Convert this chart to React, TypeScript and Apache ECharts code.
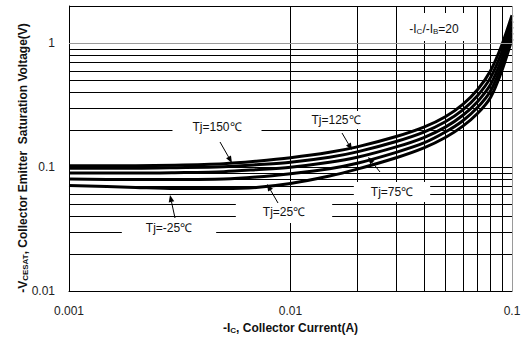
import React, { useEffect, useRef } from 'react';
import * as echarts from 'echarts';

// Collector current (A)
const currents = [0.001, 0.002, 0.003, 0.005, 0.007, 0.01, 0.015, 0.02, 0.03, 0.04, 0.05, 0.06, 0.07, 0.08, 0.09, 0.1];
// -VCE(sat) (V) for each junction temperature
const tj150 = [0.1028, 0.1028, 0.1037, 0.1066, 0.1117, 0.1191, 0.1318, 0.1458, 0.1768, 0.2106, 0.2555, 0.3216, 0.4236, 0.6008, 0.9692, 1.683];
const tj125 = [0.0982, 0.0982, 0.0991, 0.1009, 0.1047, 0.1096, 0.1202, 0.133, 0.1613, 0.1921, 0.233, 0.2906, 0.3794, 0.5282, 0.8519, 1.507];
const tj75 = [0.0896, 0.0896, 0.0904, 0.0921, 0.0955, 0.1, 0.1096, 0.1202, 0.1458, 0.1736, 0.2106, 0.2626, 0.3398, 0.4644, 0.7492, 1.35];
const tj25 = [0.0802, 0.0795, 0.0795, 0.0802, 0.0832, 0.0887, 0.0973, 0.1076, 0.1318, 0.1569, 0.1921, 0.2373, 0.3043, 0.4121, 0.6707, 1.209];
const tjm25 = [0.0712, 0.0686, 0.0673, 0.0673, 0.0686, 0.0738, 0.0848, 0.0964, 0.1191, 0.1431, 0.1736, 0.2145, 0.2725, 0.3657, 0.6008, 1.082];

const curveNames = ['Tj=150℃', 'Tj=125℃', 'Tj=75℃', 'Tj=25℃', 'Tj=-25℃'];
const curveValues = [tj150, tj125, tj75, tj25, tjm25];

const xTickLabels = [0.001, 0.01, 0.1];
const yTickLabels = [0.01, 0.1, 1];
const xMinorGrid = [0.002, 0.003, 0.004, 0.005, 0.006, 0.007, 0.008, 0.009, 0.02, 0.03, 0.04, 0.05, 0.06, 0.07, 0.08, 0.09];
const xMajorGrid = [0.01];
const yMinorGrid = [0.02, 0.03, 0.04, 0.05, 0.06, 0.07, 0.08, 0.09, 0.2, 0.3, 0.4, 0.5, 0.6, 0.7, 0.8, 0.9];
const yBlackMajor = [0.1, 2];
const yGreyMajor = [1];
const xGreyBorder = [0.1];

const FONT = 'Liberation Sans, Arial, sans-serif';

function isTick(v: number, ticks: number[]) {
  return ticks.some((t) => Math.abs(Math.log10(v) - Math.log10(t)) < 1e-6);
}

function fmt(v: number, ticks: number[]) {
  return isTick(v, ticks) ? String(+v.toPrecision(3)) : '';
}

function arrow(x1: number, y1: number, x2: number, y2: number) {
  const a = Math.atan2(y2 - y1, x2 - x1);
  const L = 7, W = 2.8;
  const bx = x2 - L * Math.cos(a), by = y2 - L * Math.sin(a);
  return [
    { type: 'line', shape: { x1, y1, x2: bx, y2: by }, style: { stroke: '#000', lineWidth: 1 }, z: 100 },
    {
      type: 'polygon',
      shape: { points: [[x2, y2], [bx + W * Math.sin(a), by - W * Math.cos(a)], [bx - W * Math.sin(a), by + W * Math.cos(a)]] },
      style: { fill: '#000' },
      z: 100,
    },
  ];
}

function label(text: string, x: number, y: number, padding: number[]) {
  return {
    type: 'text',
    x,
    y,
    z: 99,
    style: {
      text,
      font: `12px ${FONT}`,
      fill: '#111',
      align: 'center',
      verticalAlign: 'middle',
      backgroundColor: '#fff',
      padding,
    },
  };
}

export default function App() {
  const ref = useRef<HTMLDivElement>(null);
  useEffect(() => {
    if (!ref.current) return;
    const chart = echarts.init(ref.current, null, { renderer: 'svg' });
    const gridLines = [
      ...xMinorGrid.map((v) => ({ xAxis: v })),
      ...xMajorGrid.map((v) => ({ xAxis: v })),
      ...yMinorGrid.map((v) => ({ yAxis: v })),
      ...yBlackMajor.map((v) => ({ yAxis: v })),
      ...yGreyMajor.map((v) => ({ yAxis: v, lineStyle: { color: '#9a9a9a', width: 1, type: 'solid' } })),
      ...xGreyBorder.map((v) => ({ xAxis: v, lineStyle: { color: '#9a9a9a', width: 1, type: 'solid' } })),
    ];
    const option: any = {
      animation: false,
      grid: { left: 69, right: 14, top: 6, bottom: 44 },
      xAxis: {
        type: 'log',
        logBase: 10,
        min: 0.001,
        max: 0.1,
        axisLine: { show: true, lineStyle: { color: '#000', width: 1 } },
        axisTick: { show: false },
        splitLine: { show: false },
        axisLabel: {
          formatter: (v: number) => fmt(v, xTickLabels),
          margin: 14,
          color: '#222',
          fontSize: 12,
          fontFamily: FONT,
          showMaxLabel: true,
          showMinLabel: true,
        },
        name: '{a|-I}{s|C}{a|, Collector Current(A)}',
        nameLocation: 'middle',
        nameGap: 16,
        nameTextStyle: {
          rich: {
            a: { fontSize: 12, fontWeight: 'bold', fontFamily: FONT, color: '#111', lineHeight: 16, verticalAlign: 'bottom' },
            s: { fontSize: 8, fontWeight: 'bold', fontFamily: FONT, color: '#111', lineHeight: 12, verticalAlign: 'bottom' },
          },
        },
      },
      yAxis: {
        type: 'log',
        logBase: 10,
        min: 0.01,
        max: 2,
        axisLine: { show: true, lineStyle: { color: '#000', width: 1 } },
        axisTick: { show: false },
        splitLine: { show: false },
        axisLabel: {
          formatter: (v: number) => fmt(v, yTickLabels),
          margin: 14,
          color: '#222',
          fontSize: 12,
          fontFamily: FONT,
          showMaxLabel: false,
        },
      },
      graphic: [
        {
          type: 'text',
          x: 21,
          y: 158,
          rotation: Math.PI / 2,
          z: 99,
          style: {
            text: '{a|-V}{s|CESAT}{a|, Collector Emitter  Saturation Voltage(V)}',
            align: 'center',
            verticalAlign: 'middle',
            rich: {
              a: { font: `bold 12px ${FONT}`, fill: '#111', lineHeight: 16, verticalAlign: 'bottom' },
              s: { font: `bold 8px ${FONT}`, fill: '#111', lineHeight: 12, verticalAlign: 'bottom' },
            },
          },
        },
        {
          type: 'text',
          x: 434,
          y: 27,
          z: 99,
          style: {
            text: '{a|-I}{s|C}{a|/-I}{s|B}{a|=20}',
            align: 'center',
            verticalAlign: 'middle',
            backgroundColor: '#fff',
            padding: [6, 10],
            rich: {
              a: { font: `12px ${FONT}`, fill: '#111', lineHeight: 16, verticalAlign: 'bottom' },
              s: { font: `8px ${FONT}`, fill: '#111', lineHeight: 12, verticalAlign: 'bottom' },
            },
          },
        },
        label(curveNames[0], 217, 127, [3, 20]),
        label(curveNames[1], 336, 120, [3, 18]),
        label(curveNames[2], 392, 192, [4, 17]),
        label(curveNames[3], 284, 212, [5, 27]),
        label(curveNames[4], 169, 228, [2, 24]),
        ...arrow(220, 142, 232, 163),
        ...arrow(342, 133, 352, 150),
        ...arrow(380, 172, 368, 157),
        ...arrow(278, 203, 267, 184),
        ...arrow(175, 218, 170, 195),
      ],
      series: [
        {
          type: 'line',
          data: [[0.001, 0.01]],
          showSymbol: false,
          lineStyle: { opacity: 0 },
          z: 1,
          silent: true,
          markLine: {
            silent: true,
            symbol: ['none', 'none'],
            label: { show: false },
            lineStyle: { color: '#000', width: 1, type: 'solid' },
            data: gridLines,
          },
        },
        ...curveValues.map((vals, i) => ({
          name: curveNames[i],
          type: 'line',
          data: currents.map((x, j) => [x, vals[j]]),
          showSymbol: false,
          smooth: 0.3,
          lineStyle: { color: '#000', width: 3 },
          z: 3,
        })),
      ],
    };
    chart.setOption(option);
    return () => chart.dispose();
  }, []);
  return <div ref={ref} style={{ position: 'fixed', left: 0, top: 0, width: 526, height: 339, background: '#fff' }} />;
}
